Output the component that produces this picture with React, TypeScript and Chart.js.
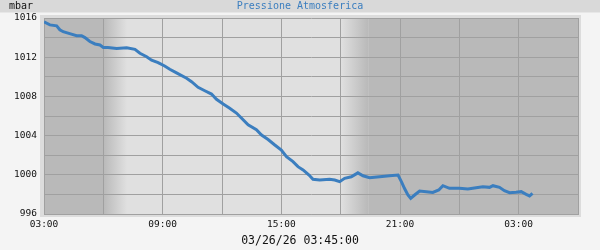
import React, { useEffect, useRef } from "react";
import { Chart, registerables } from "chart.js";

Chart.register(...registerables);

// hours after 03:00 on 03/25/26
const times: number[] = [
  0.0, 0.3, 0.64, 0.8, 0.97, 1.3, 1.65, 1.9, 2.07, 2.32, 2.58, 2.83, 3.0, 3.23, 3.67,
  4.18, 4.6, 4.85, 5.19, 5.44, 5.77, 6.1, 6.36, 6.7, 7.21, 7.46, 7.79, 8.13, 8.47, 8.72,
  9.06, 9.39, 9.73, 9.98, 10.32, 10.74, 11.0, 11.33, 11.67, 12.0, 12.26, 12.59, 12.84,
  13.1, 13.4, 13.6, 13.94, 14.44, 14.7, 14.95, 15.2, 15.54, 15.87, 16.13, 16.46, 16.97,
  17.47, 17.9, 18.07, 18.23, 18.4, 18.54, 18.74, 18.99, 19.33, 19.66, 19.96, 20.17, 20.5,
  21.0, 21.43, 21.85, 22.19, 22.53, 22.7, 23.03, 23.28, 23.54, 23.87, 24.13, 24.38,
  24.55, 24.7,
];

const pressure: number[] = [
  1015.6, 1015.3, 1015.2, 1014.8, 1014.6, 1014.4, 1014.2, 1014.2, 1014.0, 1013.6,
  1013.35, 1013.25, 1013.0, 1013.0, 1012.9, 1012.97, 1012.8, 1012.4, 1012.05, 1011.7,
  1011.45, 1011.1, 1010.77, 1010.4, 1009.85, 1009.5, 1008.93, 1008.58, 1008.24, 1007.7,
  1007.22, 1006.79, 1006.3, 1005.79, 1005.1, 1004.6, 1004.06, 1003.6, 1003.04, 1002.53,
  1001.85, 1001.34, 1000.83, 1000.5, 999.98, 999.54, 999.47, 999.54, 999.47, 999.3,
  999.64, 999.8, 1000.2, 999.9, 999.7, 999.8, 999.9, 999.98, 999.3, 998.6, 997.94,
  997.6, 997.94, 998.35, 998.28, 998.2, 998.45, 998.89, 998.62, 998.62, 998.55, 998.68,
  998.79, 998.72, 998.89, 998.72, 998.38, 998.17, 998.21, 998.28, 998.01, 997.84, 998.11,
];

const xTickValues: number[] = [0, 6, 12, 18, 24];
const xTickLabels: string[] = ["03:00", "09:00", "15:00", "21:00", "03:00"];
const yTickLabels: number[] = [996, 1000, 1004, 1008, 1012, 1016];

// day/night bands (hours after 03:00)
const nightEnd = 3.0;
const dawnEnd = 4.2;
const duskStart = 15.0;
const duskEnd = 16.4;

const TITLE = "Pressione Atmosferica";
const UNIT = "mbar";
const STAMP = "03/26/26 03:45:00";

const NIGHT = "#b9b9b9";
const DAY = "#e0e0e0";
const MONO = "'DejaVu Sans Mono', 'Liberation Mono', monospace";

const bgPlugin = {
  id: "bgPlugin",
  beforeDraw(chart: any) {
    const { ctx, chartArea: a, scales } = chart;
    const x = scales.x;
    ctx.save();
    ctx.fillStyle = "#f4f4f4";
    ctx.fillRect(0, 0, chart.width, chart.height);
    ctx.fillStyle = "#d9d9d9";
    ctx.fillRect(0, 0, chart.width, 12.5);
    ctx.fillStyle = "#dcdcdc";
    ctx.fillRect(a.left - 4, a.top - 3, a.right - a.left + 7, a.bottom - a.top + 6);

    const p0 = x.getPixelForValue(nightEnd);
    const p1 = x.getPixelForValue(dawnEnd);
    const p2 = x.getPixelForValue(duskStart);
    const p3 = x.getPixelForValue(duskEnd);
    const h = a.bottom - a.top;
    ctx.fillStyle = NIGHT;
    ctx.fillRect(a.left, a.top, p0 - a.left, h);
    let g = ctx.createLinearGradient(p0, 0, p1, 0);
    g.addColorStop(0, NIGHT);
    g.addColorStop(1, DAY);
    ctx.fillStyle = g;
    ctx.fillRect(p0, a.top, p1 - p0, h);
    ctx.fillStyle = DAY;
    ctx.fillRect(p1, a.top, p2 - p1, h);
    g = ctx.createLinearGradient(p2, 0, p3, 0);
    g.addColorStop(0, DAY);
    g.addColorStop(1, NIGHT);
    ctx.fillStyle = g;
    ctx.fillRect(p2, a.top, p3 - p2, h);
    ctx.fillStyle = NIGHT;
    ctx.fillRect(p3, a.top, a.right - p3, h);
    ctx.restore();
  },
  afterDraw(chart: any) {
    const { ctx } = chart;
    ctx.save();
    ctx.textBaseline = "middle";
    ctx.font = `10px ${MONO}`;
    ctx.fillStyle = "#111";
    ctx.textAlign = "left";
    ctx.fillText(UNIT, 9, 6);
    ctx.fillStyle = "#3b7ebf";
    ctx.textAlign = "center";
    ctx.fillText(TITLE, 300, 6);
    ctx.font = `11.5px ${MONO}`;
    ctx.fillStyle = "#111";
    ctx.fillText(STAMP, 300, 241.5);
    ctx.restore();
  },
};

export default function App() {
  const ref = useRef<HTMLCanvasElement | null>(null);

  useEffect(() => {
    if (!ref.current) return;
    const chart = new Chart(ref.current, {
      type: "line",
      data: {
        datasets: [
          {
            data: times.map((t, i) => ({ x: t, y: pressure[i] })),
            borderColor: "#3b7ebf",
            borderWidth: 3,
            pointRadius: 0,
            tension: 0,
            fill: false,
          },
        ],
      },
      options: {
        animation: false,
        responsive: false,
        devicePixelRatio: 1,
        layout: { padding: { top: 18, right: 22, left: 0, bottom: 0 } },
        plugins: {
          legend: { display: false },
          tooltip: { enabled: false },
          title: { display: false },
        },
        scales: {
          x: {
            type: "linear",
            min: 0,
            max: 27,
            afterFit(scale: any) {
              scale.height = 36;
            },
            afterBuildTicks(scale: any) {
              const arr = [];
              for (let v = 0; v <= 27; v += 3) arr.push({ value: v });
              scale.ticks = arr;
            },
            ticks: {
              autoSkip: false,
              maxRotation: 0,
              padding: 5,
              color: "#111",
              font: { family: MONO, size: 9.5 },
              callback: (v: any) => {
                const i = xTickValues.indexOf(Number(v));
                return i >= 0 ? xTickLabels[i] : "";
              },
            },
            grid: { color: "#a0a0a0", lineWidth: 1, drawTicks: false },
            border: { color: "#a0a0a0" },
          },
          y: {
            min: 996,
            max: 1016,
            afterFit(scale: any) {
              scale.width = 44;
            },
            ticks: {
              stepSize: 2,
              autoSkip: false,
              padding: 7,
              color: "#111",
              font: { family: MONO, size: 9.5 },
              callback: (v: any) => (yTickLabels.includes(Number(v)) ? String(v) : ""),
            },
            grid: { color: "#a0a0a0", lineWidth: 1, drawTicks: false },
            border: { color: "#a0a0a0" },
          },
        },
      },
      plugins: [bgPlugin],
    });
    return () => chart.destroy();
  }, []);

  return (
    <div style={{ position: "fixed", left: 0, top: 0, width: 600, height: 250, background: "#f4f4f4" }}>
      <canvas ref={ref} width={600} height={250} style={{ display: "block", width: 600, height: 250 }} />
    </div>
  );
}
